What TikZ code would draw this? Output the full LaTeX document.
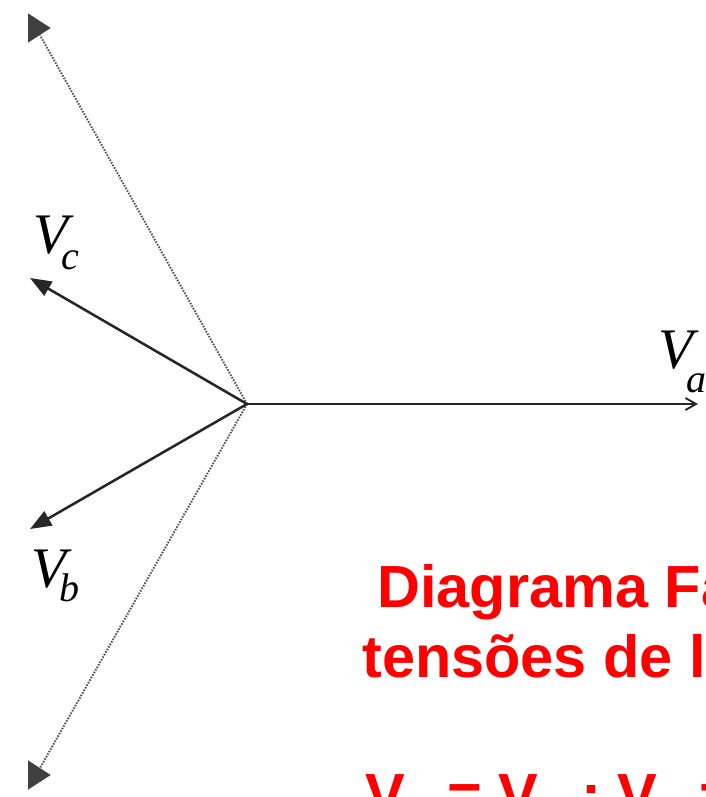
\documentclass[tikz,border=0pt]{standalone}
\usepackage{fontspec}
\setmainfont{Liberation Sans}
\newfontfamily\phfont{Liberation Serif}
\usetikzlibrary{arrows.meta,shapes.geometric}

% phasor label: V with a lowered subscript
\newcommand{\phlab}[2]{V\kern-5pt\raisebox{-#2}{\fontsize{30}{30}\selectfont #1}}

\begin{document}
\begin{tikzpicture}[
    x=0.75pt, y=-0.75pt,
    phasor/.style={draw=black!85, line width=1.9pt,
                   -{Triangle[length=16pt, width=12pt]}},
    refline/.style={draw=black!65, line width=1.5pt,
                    dash pattern=on 1.2pt off 1pt},
    tipmark/.style={isosceles triangle, isosceles triangle stretches,
                    minimum width=22pt, minimum height=17pt,
                    inner sep=0pt, fill=black!75},
    lab/.style={inner sep=0pt, anchor=base west,
                font=\phfont\itshape\fontsize{43}{43}\selectfont},
    title/.style={inner sep=0pt, anchor=base west, text=red,
                  font=\bfseries\fontsize{44.6}{52}\selectfont}
  ]
    \useasboundingbox (0,0) rectangle (706,797);
    \clip (0,0) rectangle (706,797);

    \coordinate (O) at (247,404);
    \coordinate (A) at (698,404);
    \coordinate (C) at (30,278);
    \coordinate (B) at (30,529);
    \node[tipmark] (tu) at (36,28) {};
    \node[tipmark] (td) at (36,775) {};

    % line references
    \draw[refline] (O) -- (tu);
    \draw[refline] (O) -- (td);

    % phase voltages
    \draw[draw=black!85, line width=1.4pt,
          -{Straight Barb[length=8pt, width=9pt]}] (O) -- (A);
    \draw[phasor] (O) -- (C);
    \draw[phasor] (O) -- (B);

    \node[lab] (la) at (658,368) {\phlab{a}{18pt}};
    \node[lab] (lc) at (33,253) {\phlab{c}{12pt}};
    \node[lab] (lb) at (31,587) {\phlab{b}{11pt}};

    \node[title] (t1) at (377,607) {Diagrama Fasorial das};
    \node[title] (t2) at (362,677) {tensões de linha};
    \node[title] (t3) at (365,815)
      {V\textsubscript{L} = V\textsubscript{F} ; V\textsubscript{L} =};
\end{tikzpicture}
\end{document}
